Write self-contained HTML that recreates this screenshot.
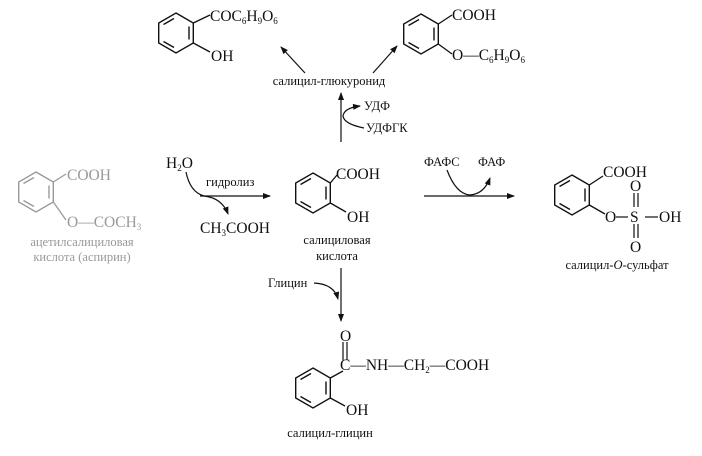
<!DOCTYPE html>
<html><head><meta charset="utf-8"><style>
html,body{margin:0;padding:0;background:#fff;}
svg{display:block;}
svg text{font-family:"Liberation Serif","DejaVu Serif",serif;fill:#111;}
.f{font-size:15.5px;}
.l{font-size:12.5px;}
.s{font-size:9px;}
</style></head><body>
<svg width="702" height="456" viewBox="0 0 702 456" xmlns="http://www.w3.org/2000/svg" font-family="Liberation Serif, serif">
<defs>
<g id="ring" fill="none" stroke-width="1.4">
<polygon points="0,-20 17.3,-10 17.3,10 0,20 -17.3,10 -17.3,-10"/>
<line x1="13" y1="-6.5" x2="13" y2="6.5"/>
<line x1="-12.5" y1="-8.5" x2="-2" y2="-14.5"/>
<line x1="-12.5" y1="8.5" x2="-2" y2="14.5"/>
</g>
<marker id="ah" markerWidth="8" markerHeight="8" refX="7" refY="4" orient="auto" markerUnits="userSpaceOnUse">
<path d="M0,1 L8,4 L0,7 Z" fill="#111"/>
</marker>
</defs>

<!-- Aspirin (gray) -->
<g stroke="#999" fill="#999">
<use href="#ring" x="36" y="192"/>
<line x1="53.3" y1="182" x2="66" y2="174" stroke-width="1.3"/>
<line x1="53.3" y1="202" x2="66" y2="220" stroke-width="1.3"/>
</g>
<text class="f" x="67" y="180" style="fill:#999">COOH</text>
<text class="f" x="67" y="227" style="fill:#999">O—COCH<tspan class="s" dy="3">3</tspan></text>
<text class="l" x="82" y="246" text-anchor="middle" style="fill:#999">ацетилсалициловая</text>
<text class="l" x="82" y="261" text-anchor="middle" style="fill:#999">кислота (аспирин)</text>

<!-- hydrolysis -->
<text class="f" x="166" y="168">H<tspan class="s" dy="3">2</tspan><tspan dy="-3">O</tspan></text>
<line x1="200" y1="196" x2="270" y2="196" stroke="#111" stroke-width="1.2" marker-end="url(#ah)"/>
<path d="M186,172 Q190,192 204,196 Q222,198 228,214" fill="none" stroke="#111" stroke-width="1.2" marker-end="url(#ah)"/>
<text class="l" x="206" y="186">гидролиз</text>
<text class="f" x="200" y="233">CH<tspan class="s" dy="3">3</tspan><tspan dy="-3">COOH</tspan></text>

<!-- Salicylic acid -->
<g stroke="#111">
<use href="#ring" x="313" y="193"/>
<line x1="330.3" y1="183" x2="337" y2="175" stroke-width="1.3"/>
<line x1="330.3" y1="203" x2="346" y2="212" stroke-width="1.3"/>
</g>
<text class="f" x="336" y="179">COOH</text>
<text class="f" x="347" y="222">OH</text>
<text class="l" x="337" y="244" text-anchor="middle">салициловая</text>
<text class="l" x="337" y="260" text-anchor="middle">кислота</text>

<!-- up to glucuronide -->
<line x1="341" y1="142" x2="341" y2="93" stroke="#111" stroke-width="1.2" marker-end="url(#ah)"/>
<path d="M364,128 Q344,124 343,116 Q344,108 360,106" fill="none" stroke="#111" stroke-width="1.2" marker-end="url(#ah)"/>
<text class="l" x="364" y="110">УДФ</text>
<text class="l" x="366" y="132">УДФГК</text>
<text class="l" x="329" y="85" text-anchor="middle">салицил-глюкуронид</text>
<line x1="305" y1="73" x2="281" y2="47" stroke="#111" stroke-width="1.2" marker-end="url(#ah)"/>
<line x1="373" y1="73" x2="397" y2="46" stroke="#111" stroke-width="1.2" marker-end="url(#ah)"/>

<!-- top-left ester -->
<g stroke="#111">
<use href="#ring" x="176" y="33"/>
<line x1="193.3" y1="23" x2="210" y2="15" stroke-width="1.3"/>
<line x1="193.3" y1="43" x2="210" y2="52" stroke-width="1.3"/>
</g>
<text class="f" x="210" y="21">COC<tspan class="s" dy="3">6</tspan><tspan dy="-3">H</tspan><tspan class="s" dy="3">9</tspan><tspan dy="-3">O</tspan><tspan class="s" dy="3">6</tspan></text>
<text class="f" x="211" y="61">OH</text>

<!-- top-right ether -->
<g stroke="#111">
<use href="#ring" x="421" y="34"/>
<line x1="438.3" y1="24" x2="452" y2="15" stroke-width="1.3"/>
<line x1="438.3" y1="44" x2="452" y2="54" stroke-width="1.3"/>
</g>
<text class="f" x="452" y="20">COOH</text>
<text class="f" x="452" y="60">O—C<tspan class="s" dy="3">6</tspan><tspan dy="-3">H</tspan><tspan class="s" dy="3">9</tspan><tspan dy="-3">O</tspan><tspan class="s" dy="3">6</tspan></text>

<!-- sulfation -->
<text class="l" x="424" y="166">ФАФС</text>
<text class="l" x="478" y="166">ФАФ</text>
<line x1="424" y1="196" x2="514" y2="196" stroke="#111" stroke-width="1.2" marker-end="url(#ah)"/>
<path d="M447,170 Q456,194 470,195 Q484,194 490,178" fill="none" stroke="#111" stroke-width="1.2" marker-end="url(#ah)"/>

<g stroke="#111">
<use href="#ring" x="572" y="195"/>
<line x1="589.3" y1="185" x2="603" y2="176" stroke-width="1.3"/>
<line x1="589.3" y1="205" x2="605" y2="214" stroke-width="1.3"/>
<line x1="616" y1="217" x2="628" y2="217" stroke-width="1.2"/>
<line x1="645" y1="217" x2="658" y2="217" stroke-width="1.2"/>
<line x1="634" y1="193" x2="634" y2="207" stroke-width="1.2"/>
<line x1="638" y1="193" x2="638" y2="207" stroke-width="1.2"/>
<line x1="634" y1="224" x2="634" y2="238" stroke-width="1.2"/>
<line x1="638" y1="224" x2="638" y2="238" stroke-width="1.2"/>
</g>
<text class="f" x="603" y="177">COOH</text>
<text class="f" x="605" y="222">O</text>
<text class="f" x="630" y="222">S</text>
<text class="f" x="659" y="222">OH</text>
<text class="f" x="630" y="191">O</text>
<text class="f" x="630" y="252">O</text>
<text class="l" x="617" y="269" text-anchor="middle">салицил-<tspan font-style="italic">O</tspan>-сульфат</text>

<!-- glycine -->
<line x1="341" y1="268" x2="341" y2="321" stroke="#111" stroke-width="1.2" marker-end="url(#ah)"/>
<path d="M314,283 Q334,284 338,299" fill="none" stroke="#111" stroke-width="1.2" marker-end="url(#ah)"/>
<text class="l" x="268" y="287">Глицин</text>

<g stroke="#111">
<use href="#ring" x="313" y="388"/>
<line x1="330.3" y1="378" x2="343" y2="371" stroke-width="1.3"/>
<line x1="330.3" y1="398" x2="345" y2="406" stroke-width="1.3"/>
<line x1="343" y1="342" x2="343" y2="360" stroke-width="1.2"/>
<line x1="347" y1="342" x2="347" y2="360" stroke-width="1.2"/>
</g>
<text class="f" x="340" y="341">O</text>
<text class="f" x="340" y="370">C—NH—CH<tspan class="s" dy="3">2</tspan><tspan dy="-3">—COOH</tspan></text>
<text class="f" x="346" y="415">OH</text>
<text class="l" x="330" y="437" text-anchor="middle">салицил-глицин</text>
</svg>
</body></html>
